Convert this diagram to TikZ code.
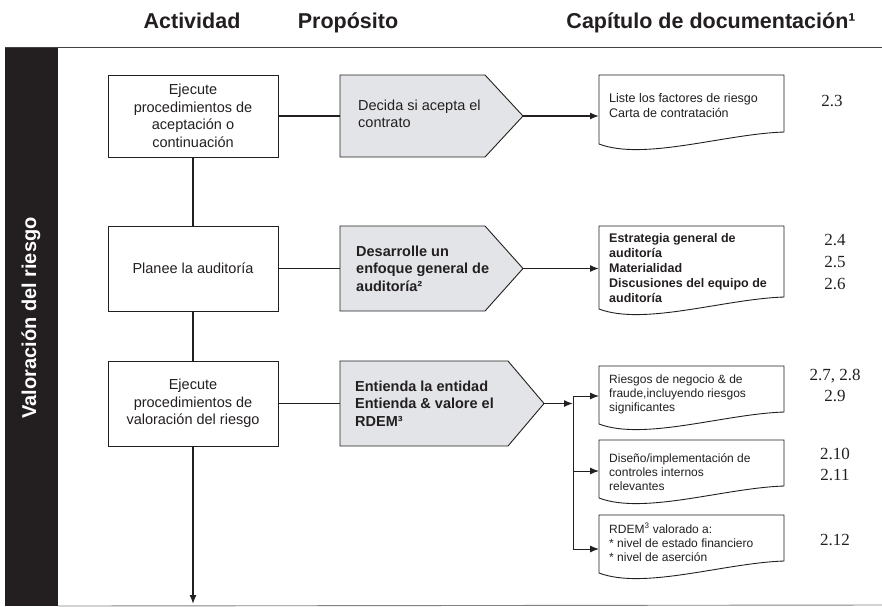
\documentclass[tikz,border=0pt]{standalone}
\usepackage{fontspec}
\setmainfont{Liberation Sans}
\newfontfamily\numfont{Liberation Serif}
\usetikzlibrary{arrows.meta,positioning,calc,backgrounds}
\definecolor{ink}{RGB}{35,31,32}
\definecolor{purfill}{RGB}{227,228,231}
\definecolor{rulegray}{RGB}{130,130,130}

\begin{document}
\begin{tikzpicture}[
  x=1pt, y=-1pt,
  node distance=62pt,
  head/.style={font=\fontsize{21.5}{25}\selectfont\bfseries, text=ink, anchor=base, inner sep=0pt},
  act/.style={draw=ink, line width=0.9pt, minimum width=170pt, inner sep=0pt, outer sep=0pt,
              align=center, text=ink, font=\fontsize{14.5}{17.5}\selectfont},
  purbody/.style={minimum width=#1, minimum height=85pt, inner sep=0pt, outer sep=0pt},
  purtext/.style={anchor=west, align=left, text=ink, inner sep=0pt, font=\fontsize{14.5}{17.5}\selectfont},
  purshape/.style={draw=ink, line width=0.9pt, fill=purfill},
  doc/.style={minimum width=185pt, inner sep=0pt, outer sep=0pt, anchor=north west},
  docshape/.style={draw=ink, line width=0.9pt, fill=white},
  doctext/.style={anchor=north west, align=left, text=ink, inner sep=0pt, font=\fontsize{12.5}{15}\selectfont},
  num/.style={align=center, text=ink, font=\numfont\fontsize{17}{21}\selectfont},
  link/.style={draw=ink, line width=1.4pt},
  arr/.style={link, -{Latex[length=9pt,width=7pt]}}
]
\useasboundingbox (0,0) rectangle (882,606);

% column heads
\node[head] (hact) at (192,28) {Actividad};
\node[head] (hpur) at (348,28) {Propósito};
\node[head] (hdoc) at (711,28) {Capítulo de documentación¹};
\draw[ink!85, line width=1.6pt] (5,47.5) -- (882,47.5);

% side bar
\node[fill=ink, minimum width=53pt, minimum height=558pt, inner sep=0pt, outer sep=0pt,
      anchor=north west] (bar) at (5,48) {};
\node[rotate=90, text=white, font=\fontsize{20}{22}\selectfont\bfseries] (barlabel) at (31,318)
  {Valoración del riesgo};
\draw[rulegray, line width=0.9pt] (bar.south east) -- (882,605);

% activities
\node[act, minimum height=82pt] (act1) at (193,116) {Ejecute\\procedimientos de\\aceptación o\\continuación};
\node[act, minimum height=85pt, below=69pt of act1] (act2) {Planee la auditoría};
\node[act, minimum height=85pt, below=50pt of act2] (act3) {Ejecute\\procedimientos de\\valoración del riesgo};
\coordinate[below=158pt of act3.south] (actend);

% purposes
\node[purbody=145pt, minimum height=82pt, right=of act1] (pur1) {};
\node[purbody=145pt, right=of act2] (pur2) {};
\node[purbody=168pt, right=of act3] (pur3) {};
\coordinate (tip1) at ($(pur1.east)+(38,0)$);
\coordinate (tip2) at ($(pur2.east)+(38,0)$);
\coordinate (tip3) at ($(pur3.east)+(36,0)$);
\node[purtext] (pur1txt) at ($(pur1.west)+(18,-2)$) {Decida si acepta el\\contrato};
\node[purtext, font=\fontsize{14.5}{17.5}\selectfont\bfseries] (pur2txt) at ($(pur2.west)+(16,0)$)
  {Desarrolle un\\enfoque general de\\auditoría²};
\node[purtext, font=\fontsize{14.5}{17.5}\selectfont\bfseries] (pur3txt) at ($(pur3.west)+(15,0)$)
  {Entienda la entidad\\Entienda \& valore el\\RDEM³};

% documents
\node[doc, minimum height=57pt] (doc1) at (599,75) {};
\node[doc, minimum height=71pt] (doc2) at (599,226) {};
\node[doc, minimum height=46pt] (doc3a) at (599,366) {};
\node[doc, minimum height=46pt] (doc3b) at (599,440) {};
\node[doc, minimum height=46pt] (doc3c) at (599,515) {};

\begin{scope}[on background layer]
  \foreach \p/\d in {pur1/38, pur2/38, pur3/36}
    \draw[purshape] (\p.north west) -- (\p.north east) -- ($(\p.east)+(\d,0)$)
      -- (\p.south east) -- (\p.south west) -- cycle;
  \foreach \d in {doc1, doc2, doc3a, doc3b, doc3c}
    \draw[docshape] (\d.north west) -- (\d.north east) -- (\d.south east)
      .. controls ($(\d.south east)+(-60,2)$) and ($(\d.south west)+(45,29)$) ..
      ($(\d.south west)+(0,12)$) -- cycle;
\end{scope}

\node[doctext] (doc1txt) at ($(doc1.north west)+(10,18)$) {Liste los factores de riesgo\\Carta de contratación};
\node[doctext, font=\fontsize{12.5}{15}\selectfont\bfseries] (doc2txt) at ($(doc2.north west)+(10,7)$)
  {Estrategia general de\\auditoría\\Materialidad\\Discusiones del equipo de\\auditoría};
\node[doctext, font=\fontsize{12}{14}\selectfont] (doc3atxt) at ($(doc3a.north west)+(10,9)$)
  {Riesgos de negocio \& de\\fraude,incluyendo riesgos\\significantes};
\node[doctext, font=\fontsize{12}{14}\selectfont] (doc3btxt) at ($(doc3b.north west)+(10,13)$)
  {Diseño/implementación de\\controles internos\\relevantes};
\node[doctext, font=\fontsize{12}{14}\selectfont] (doc3ctxt) at ($(doc3c.north west)+(10,8)$)
  {RDEM\textsuperscript{3} valorado a:\\* nivel de estado financiero\\* nivel de aserción};

% chapter numbers
\node[num] (n1) at (832,101) {2.3};
\node[num, font=\numfont\fontsize{17}{22}\selectfont] (n2) at (835,262) {2.4\\2.5\\2.6};
\node[num] (n3a) at (835,385) {2.7, 2.8\\2.9};
\node[num] (n3b) at (835,464) {2.10\\2.11};
\node[num] (n3c) at (835,540) {2.12};

% connectors
\draw[link] (act1) -- (act2);
\draw[link] (act2) -- (act3);
\draw[arr] (act3) -- (actend);
\draw[link] (act1) -- (pur1);
\draw[link] (act2) -- (pur2);
\draw[link] (act3) -- (pur3);
\draw[arr] (tip1) -- (tip1 -| doc1.west);
\draw[arr] (tip2) -- (tip2 -| doc2.west);

\coordinate (bus) at ($(tip3)+(29,0)$);
\coordinate (in3a) at ($(doc3a.north west)+(0,30)$);
\coordinate (in3b) at ($(doc3b.north west)+(0,31)$);
\coordinate (in3c) at ($(doc3c.north west)+(0,34)$);
\draw[arr] (tip3) -- (bus);
\draw[link, line width=1pt] (bus |- in3a) -- (bus |- in3c);
\foreach \i in {in3a, in3b, in3c}
  \draw[arr, line width=1pt] (bus |- \i) -- (\i);
\end{tikzpicture}
\end{document}
